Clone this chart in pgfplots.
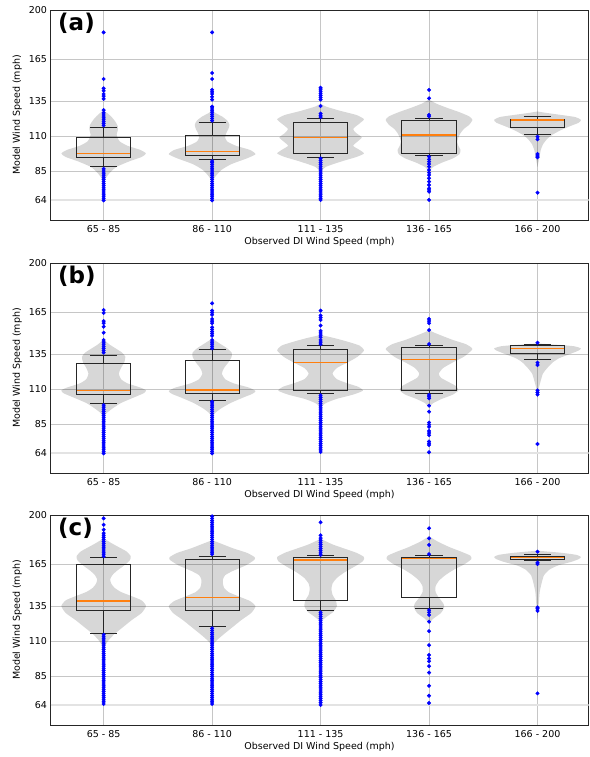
\documentclass[border=0pt]{standalone}
\usepackage{fontspec}
\setmainfont{DejaVu Sans}
\usepackage{pgfplots}
\usepackage{pgfplotstable}
\pgfplotsset{compat=1.18}
\definecolor{mplorange}{HTML}{FF7F0E}

% ---------- violin half-width profiles (y, half width in category units) ----------
\pgfplotstableread{
y w
77 0
80 0.02
84 0.06
88 0.12
92 0.24
95 0.35
97.5 0.39
100 0.34
103 0.22
106 0.15
108.5 0.13
111 0.12
114 0.13
117 0.13
120 0.11
123 0.08
126 0.04
128 0
}\VaA
\pgfplotstableread{
y w
78 0
82 0.04
86 0.09
90 0.18
94 0.32
97 0.40
100 0.35
103 0.22
106 0.14
109 0.12
112 0.13
115 0.15
118 0.16
121 0.14
124 0.09
126 0.04
128 0
}\VaB
\pgfplotstableread{
y w
84 0
88 0.05
92 0.20
95 0.33
97.5 0.40
100 0.36
103 0.30
106 0.34
109 0.38
112 0.33
115 0.30
119 0.36
122 0.40
125 0.33
128 0.18
131 0.05
133 0
}\VaC
\pgfplotstableread{
y w
85 0
88 0.04
91 0.12
94 0.22
97 0.28
100 0.29
103 0.27
106 0.26
109 0.27
112 0.29
115 0.32
118 0.37
121.5 0.40
124 0.37
127 0.28
130 0.17
133 0.07
136 0
}\VaD
\pgfplotstableread{
y w
88 0
92 0.01
96 0.02
100 0.03
104 0.05
108 0.09
111 0.14
114 0.21
117 0.30
119.5 0.38
121.5 0.40
123.5 0.35
125 0.22
126.5 0.08
127.5 0
}\VaE
\pgfplotstableread{
y w
90 0
93 0.03
96 0.08
100 0.16
104 0.28
107 0.37
109 0.39
111 0.34
114 0.22
117 0.16
121 0.14
125 0.16
129 0.19
133 0.20
136 0.17
139 0.11
142 0.05
145.5 0
}\VbA
\pgfplotstableread{
y w
90 0
93 0.03
96 0.08
100 0.17
104 0.29
106.5 0.37
108.5 0.40
111 0.34
114 0.20
117 0.12
121 0.09
125 0.11
129 0.15
133 0.18
136 0.18
139 0.14
142 0.08
146 0
}\VbB
\pgfplotstableread{
y w
97 0
100 0.05
103 0.15
106 0.30
108.8 0.39
111.5 0.35
114 0.25
117 0.15
121 0.11
125 0.15
129 0.25
133 0.34
137.5 0.40
141 0.36
144 0.24
146.5 0.12
148.6 0
}\VbC
\pgfplotstableread{
y w
97 0
100 0.04
103 0.12
106 0.22
109 0.27
112 0.25
115 0.18
118 0.11
121 0.09
125 0.13
129 0.22
133 0.32
138.5 0.40
142 0.34
145 0.22
148 0.12
150.5 0.04
152 0
}\VbD
\pgfplotstableread{
y w
104 0
110 0.01
116 0.03
121 0.05
125 0.09
129 0.14
132 0.20
135 0.30
137.5 0.38
139 0.40
140.5 0.34
141.5 0.20
142.5 0
}\VbE
\pgfplotstableread{
y w
104.8 0
110 0.04
115 0.10
120 0.18
125 0.26
130 0.35
135 0.39
139 0.35
142 0.26
145 0.16
148 0.10
151 0.07
154 0.06
157 0.08
160 0.12
164 0.19
167.5 0.24
170.5 0.25
174 0.21
177 0.14
180 0.07
183.3 0
}\VcA
\pgfplotstableread{
y w
107 0
111 0.05
115 0.11
120 0.19
125 0.27
130 0.36
134.8 0.40
138.5 0.35
142 0.24
145 0.15
148 0.11
151 0.10
154 0.10
157 0.12
160 0.19
164 0.31
168 0.39
170 0.39
173 0.32
176 0.20
179 0.10
182 0
}\VcB
\pgfplotstableread{
y w
123.8 0
127 0.05
131 0.12
135 0.15
139 0.14
143 0.11
147 0.10
151 0.11
155 0.15
159 0.22
163 0.31
167 0.39
170 0.40
173 0.33
176 0.22
179 0.11
183 0
}\VcC
\pgfplotstableread{
y w
122.6 0
126 0.04
130 0.11
134 0.14
137 0.13
141 0.09
145 0.06
149 0.06
153 0.09
157 0.15
161 0.23
165 0.33
168.5 0.39
171 0.38
174 0.29
177 0.19
181 0.08
184.8 0
}\VcD
\pgfplotstableread{
y w
126 0
135 0.01
145 0.02
152 0.04
157 0.06
161 0.11
164 0.19
166.5 0.31
168.5 0.38
170 0.40
171.5 0.36
173 0.22
174.5 0
}\VcE

% #1 centre, #2 table : two filled halves meeting on the centre line
\newcommand{\violin}[2]{%
  \addplot[fill=black, fill opacity=0.155, draw=none, smooth, tension=0.35, forget plot] table[x expr={#1-\thisrow{w}}, y=y] {#2};
  \addplot[fill=black, fill opacity=0.155, draw=none, smooth, tension=0.35, forget plot] table[x expr={#1+\thisrow{w}}, y=y] {#2};}
% #1 position, #2..#6 lower whisker, q1, median, q3, upper whisker
\newcommand{\bx}[6]{%
  \addplot[black!85, line width=0.9pt, forget plot] table[row sep=\\, x expr={#1+\thisrow{d}}, y=v] {d v\\ 0 #2\\ 0 #3\\};
  \addplot[black!85, line width=0.9pt, forget plot] table[row sep=\\, x expr={#1+\thisrow{d}}, y=v] {d v\\ 0 #5\\ 0 #6\\};
  \addplot[black!85, line width=0.9pt, forget plot] table[row sep=\\, x expr={#1+\thisrow{d}}, y=v] {d v\\ -0.125 #2\\ 0.125 #2\\};
  \addplot[black!85, line width=0.9pt, forget plot] table[row sep=\\, x expr={#1+\thisrow{d}}, y=v] {d v\\ -0.125 #6\\ 0.125 #6\\};
  \addplot[black!85, line width=0.9pt, line join=miter, forget plot] table[row sep=\\, x expr={#1+\thisrow{d}}, y=v] {d v\\ -0.25 #3\\ 0.25 #3\\ 0.25 #5\\ -0.25 #5\\ -0.25 #3\\} -- cycle;
  \addplot[mplorange, line width=1.5pt, forget plot] table[row sep=\\, x expr={#1+\thisrow{d}}, y=v] {d v\\ -0.245 #4\\ 0.245 #4\\};}
% #1 position, #2 outlier values
\newcommand{\outl}[2]{%
  \addplot[only marks, mark=*, mark size=1.8pt, color=blue, forget plot]
    table[row sep=\\, x expr={#1}, y=y] {y\\ #2};}
\newcommand{\refline}{\addplot[gray!22, line width=2pt, forget plot] coordinates {(0.51,64) (5.47,64)};}

\pgfplotsset{panel/.style={
  anchor=south west, width=538pt, height=210pt, scale only axis,
  xmin=0.51, xmax=5.47, ymin=50, ymax=200,
  xtick={1,2,3,4,5},
  xticklabels={65 - 85, 86 - 110, 111 - 135, 136 - 165, 166 - 200},
  ytick={64,85,110,135,165,200},
  grid=major, major grid style={gray!45, line width=0.6pt},
  major tick length=0pt,
  axis line style={black!85, line width=0.8pt},
  ticklabel style={font=\fontsize{9.5}{11}\selectfont},
  label style={font=\fontsize{9.5}{11}\selectfont},
  xlabel={Observed DI Wind Speed (mph)}, ylabel={Model Wind Speed (mph)},
  xlabel style={yshift=2pt},
  xticklabel style={yshift=-2pt},
  /pgf/number format/assume math mode=true,
}}
\newcommand{\paneltag}[1]{\node[anchor=north west, inner sep=0pt, font=\bfseries\fontsize{23}{23}\selectfont] at (rel axis cs:0.014,0.985) {#1};}

\begin{document}
\begin{tikzpicture}
% ---------------- (a) ----------------
\begin{axis}[panel, at={(50.5pt,537pt)}]
\refline
\violin{1}{\VaA}
\violin{2}{\VaB}
\violin{3}{\VaC}
\violin{4}{\VaD}
\violin{5}{\VaE}
\bx{1}{88}{94.8}{97.6}{108.8}{116}
\bx{2}{92.9}{96}{98.8}{110.7}{119.8}
\bx{3}{94.8}{97.6}{108.8}{119.5}{122.6}
\bx{4}{96}{97.6}{110.7}{121}{122.6}
\bx{5}{111}{116}{121.3}{122}{123.8}
\outl{1}{64\\ 65.5\\ 67\\ 68.5\\ 70\\ 71.5\\ 73\\ 74.5\\ 76\\ 77.5\\ 79\\ 80.5\\ 82\\ 83.5\\ 85\\ 86.5\\ 117.5\\ 119\\ 120.5\\ 122\\ 123.5\\ 125\\ 126.5\\ 128.5\\ 136.5\\ 138.5\\ 140\\ 142.3\\ 144\\ 150.7\\ 184\\}
\outl{2}{64\\ 65.5\\ 67\\ 68.5\\ 70\\ 71.5\\ 73\\ 74.5\\ 76\\ 77.5\\ 79\\ 80.5\\ 82\\ 83.5\\ 85\\ 86.5\\ 88\\ 89.5\\ 91\\ 92\\ 121\\ 122.5\\ 124\\ 125.5\\ 127\\ 128.5\\ 130\\ 131\\ 136\\ 138\\ 140\\ 141.5\\ 143\\ 150.7\\ 155\\ 184\\}
\outl{3}{64.3\\ 65.5\\ 67\\ 68.5\\ 70\\ 71.5\\ 73\\ 74.5\\ 76\\ 77.5\\ 79\\ 80.5\\ 82\\ 83.5\\ 85\\ 86.5\\ 88\\ 89.5\\ 91\\ 92.5\\ 94\\ 123.5\\ 124.5\\ 126\\ 131.4\\ 136\\ 137.5\\ 139\\ 140.5\\ 142\\ 143.5\\ 144.5\\}
\outl{4}{64.3\\ 70.2\\ 71.5\\ 72.6\\ 75\\ 77.4\\ 79.8\\ 82.1\\ 83.8\\ 85.7\\ 88.1\\ 90\\ 91.7\\ 93.3\\ 95.2\\ 124\\ 125\\ 136.9\\ 142.9\\}
\outl{5}{69.5\\ 94.8\\ 95.7\\ 97.1\\ 107.6\\ 109.5\\}
\paneltag{(a)}
\end{axis}
% ---------------- (b) ----------------
\begin{axis}[panel, at={(50.5pt,284pt)}]
\refline
\violin{1}{\VbA}
\violin{2}{\VbB}
\violin{3}{\VbC}
\violin{4}{\VbD}
\violin{5}{\VbE}
\bx{1}{100}{106.2}{108.8}{127.9}{134}
\bx{2}{102}{106.9}{109.3}{130.5}{138.3}
\bx{3}{106.9}{109}{128.8}{138.3}{140.9}
\bx{4}{106.9}{109}{131.2}{139.5}{140.9}
\bx{5}{131.2}{135.2}{138.8}{140.9}{142.1}
\outl{1}{64\\ 65.5\\ 67\\ 68.5\\ 70\\ 71.5\\ 73\\ 74.5\\ 76\\ 77.5\\ 79\\ 80.5\\ 82\\ 83.5\\ 85\\ 86.5\\ 88\\ 89.5\\ 91\\ 92.5\\ 94\\ 95.5\\ 97\\ 98.5\\ 136\\ 137.5\\ 139\\ 140.5\\ 142\\ 143.5\\ 145\\ 150.2\\ 154.5\\ 157\\ 158.5\\ 164.3\\ 166.4\\}
\outl{2}{64\\ 65.5\\ 67\\ 68.5\\ 70\\ 71.5\\ 73\\ 74.5\\ 76\\ 77.5\\ 79\\ 80.5\\ 82\\ 83.5\\ 85\\ 86.5\\ 88\\ 89.5\\ 91\\ 92.5\\ 94\\ 95.5\\ 97\\ 98.5\\ 100\\ 101\\ 139\\ 140.5\\ 142\\ 143.5\\ 145\\ 148\\ 149.5\\ 151\\ 152.5\\ 154\\ 157\\ 158.5\\ 160\\ 163\\ 164.5\\ 166\\ 171.2\\}
\outl{3}{65\\ 66.5\\ 68\\ 69.5\\ 71\\ 72.5\\ 74\\ 75.5\\ 77\\ 78.5\\ 80\\ 81.5\\ 83\\ 84.5\\ 86\\ 87.5\\ 89\\ 90.5\\ 92\\ 93.5\\ 95\\ 96.5\\ 98\\ 99.5\\ 101\\ 102.5\\ 104\\ 105.5\\ 142\\ 143.5\\ 145\\ 147\\ 148.5\\ 150\\ 151.5\\ 155.3\\ 159.3\\ 161\\ 162.5\\ 166\\}
\outl{4}{64.8\\ 70\\ 71.2\\ 72.5\\ 77\\ 78.5\\ 80\\ 83\\ 84.5\\ 86\\ 93.8\\ 98.1\\ 103.3\\ 104.5\\ 105.7\\ 142.1\\ 152.1\\ 157\\ 158.5\\ 160\\}
\outl{5}{70.7\\ 106\\ 107.5\\ 109\\ 127.1\\ 128.8\\ 143\\}
\paneltag{(b)}
\end{axis}
% ---------------- (c) ----------------
\begin{axis}[panel, at={(50.5pt,32pt)}]
\refline
\violin{1}{\VcA}
\violin{2}{\VcB}
\violin{3}{\VcC}
\violin{4}{\VcD}
\violin{5}{\VcE}
\bx{1}{115.7}{131.9}{138.6}{165}{169.5}
\bx{2}{120.7}{131.9}{141}{168.6}{170.7}
\bx{3}{131.9}{138.8}{167.9}{169.8}{170.8}
\bx{4}{132.9}{141}{169}{169.8}{170.8}
\bx{5}{167.4}{168.6}{169.8}{170.7}{171.9}
\outl{1}{65\\ 66.5\\ 68\\ 69.5\\ 71\\ 72.5\\ 74\\ 75.5\\ 77\\ 78.5\\ 80\\ 81.5\\ 83\\ 84.5\\ 86\\ 87.5\\ 89\\ 90.5\\ 92\\ 93.5\\ 95\\ 96.5\\ 98\\ 99.5\\ 101\\ 102.5\\ 104\\ 105.5\\ 107\\ 108.5\\ 110\\ 111.5\\ 113\\ 114.5\\ 170.5\\ 172\\ 173.5\\ 175\\ 176.5\\ 178\\ 179.5\\ 181\\ 182.5\\ 184\\ 185.5\\ 187\\ 189.5\\ 193\\ 197.6\\}
\outl{2}{65\\ 66.5\\ 68\\ 69.5\\ 71\\ 72.5\\ 74\\ 75.5\\ 77\\ 78.5\\ 80\\ 81.5\\ 83\\ 84.5\\ 86\\ 87.5\\ 89\\ 90.5\\ 92\\ 93.5\\ 95\\ 96.5\\ 98\\ 99.5\\ 101\\ 102.5\\ 104\\ 105.5\\ 107\\ 108.5\\ 110\\ 111.5\\ 113\\ 114.5\\ 116\\ 117.5\\ 119\\ 172\\ 173.5\\ 175\\ 176.5\\ 178\\ 179.5\\ 181\\ 182.5\\ 184\\ 185.5\\ 187\\ 188.5\\ 190\\ 191.5\\ 193\\ 194.5\\ 196\\ 197.5\\ 199\\}
\outl{3}{64.3\\ 66\\ 67.5\\ 69\\ 70.5\\ 72\\ 73.5\\ 75\\ 76.5\\ 78\\ 79.5\\ 81\\ 82.5\\ 84\\ 85.5\\ 87\\ 88.5\\ 90\\ 91.5\\ 93\\ 94.5\\ 96\\ 97.5\\ 99\\ 100.5\\ 102\\ 103.5\\ 105\\ 106.5\\ 108\\ 109.5\\ 111\\ 112.5\\ 114\\ 115.5\\ 117\\ 118.5\\ 120\\ 121.5\\ 123\\ 124.5\\ 126\\ 127.5\\ 129\\ 130.5\\ 171.5\\ 173\\ 174.5\\ 176\\ 177.5\\ 179\\ 180.5\\ 182\\ 183.5\\ 185.5\\ 194.8\\}
\outl{4}{65.7\\ 70.9\\ 78\\ 87.4\\ 92\\ 95.5\\ 97.5\\ 100\\ 107\\ 117\\ 123.8\\ 128.6\\ 130.5\\ 132\\ 172\\ 178.6\\ 183.3\\ 190.5\\}
\outl{5}{72.6\\ 131.5\\ 133\\ 134\\ 165\\ 166\\ 173.8\\}
\paneltag{(c)}
\end{axis}
\pgfresetboundingbox
\path[use as bounding box] (0,0) rectangle (589pt,757pt);
\end{tikzpicture}
\end{document}
